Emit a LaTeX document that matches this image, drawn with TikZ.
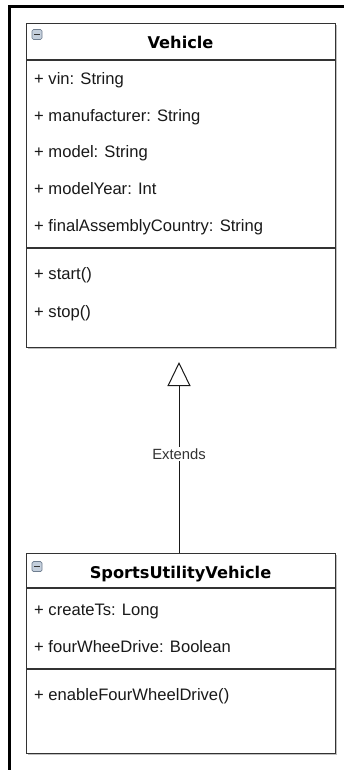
\documentclass[tikz,border=0pt]{standalone}
\usepackage{fontspec}
\setmainfont{Liberation Sans}
\newfontfamily\titlefont{DejaVu Sans}
\usetikzlibrary{arrows.meta}
\definecolor{boxline}{HTML}{333333}
\definecolor{iconfill}{HTML}{C4CFDC}
\definecolor{iconline}{HTML}{6F7E90}
\tikzset{
  classbox/.style={draw=boxline, line width=1.2pt, fill=white, anchor=north west,
    inner sep=0pt, minimum width=309pt},
  boxshadow/.style={fill=black!25, anchor=north west, inner sep=0pt, minimum width=309pt},
  divider/.style={draw=boxline, line width=1.2pt},
  member/.style={anchor=base west, inner sep=0pt, font=\fontsize{16.6}{19}\selectfont, text=black!90},
  classtitle/.style={anchor=base, inner sep=0pt, font=\titlefont\bfseries\fontsize{16.2}{19}\selectfont},
  collapse/.style={draw=iconline, fill=iconfill, rounded corners=1.5pt, line width=0.7pt},
  iconbar/.style={line width=1.6pt, draw=black!80},
  relabel/.style={fill=white, inner sep=1.5pt, font=\fontsize{14.8}{17}\selectfont, text=black!80},
  extends/.style={draw=black!90, line width=1pt,
    -{Triangle[open, length=24pt, width=23pt, line width=1pt]}},
  frame/.style={draw=black, line width=3pt, line join=miter}
}
\begin{document}
\begin{tikzpicture}[x=1pt, y=-1pt]
\useasboundingbox (0,0) rectangle (344,770);
\fill[white] (0,0) rectangle (344,770);

% outer frame (top and left edges)
\draw[frame] (9.5,770) -- (9.5,6.5) -- (344,6.5);

% ---- Vehicle ----
\node[boxshadow, minimum height=324pt] (vshadow) at (27.5,24.5) {};
\node[classbox, minimum height=324pt] (vehicle) at (26,23) {};
\draw[divider] (26,60) -- (335,60);
\draw[divider] (26,248) -- (335,248);
\draw[collapse] (32,29.5) rectangle (42,39.5);
\draw[iconbar] (34.3,34.5) -- (39.7,34.5);
\node[classtitle] (vtitle) at (180.5,49) {Vehicle};
\node[member] (vvin)   at (34,85)    {+ vin: String};
\node[member] (vman)   at (34,121.5) {+ manufacturer: String};
\node[member] (vmodel) at (34,158)   {+ model: String};
\node[member] (vyear)  at (34,194.5) {+ modelYear: Int};
\node[member] (vctry)  at (34,231)   {+ finalAssemblyCountry: String};
\node[member] (vstart) at (34,279)   {+ start()};
\node[member] (vstop)  at (34,317)   {+ stop()};

% ---- SportsUtilityVehicle ----
\node[boxshadow, minimum height=200pt] (sshadow) at (27.5,554.5) {};
\node[classbox, minimum height=200pt] (suv) at (26,553) {};
\draw[divider] (26,588) -- (335,588);
\draw[divider] (26,669) -- (335,669);
\draw[collapse] (32,561.5) rectangle (42,571.5);
\draw[iconbar] (34.3,566.5) -- (39.7,566.5);
\node[classtitle] (stitle) at (180.5,578) {SportsUtilityVehicle};
\node[member] (screate) at (34,615) {+ createTs: Long};
\node[member] (s4wd)    at (34,652) {+ fourWheeDrive: Boolean};
\node[member] (senable) at (34,700) {+ enableFourWheelDrive()};

% ---- generalisation ----
\coordinate (suvtop) at (179,553);
\coordinate (tip) at (179,362);
\draw[extends] (suvtop) -- (tip);
\node[relabel] (extlabel) at (179,454) {Extends};
\end{tikzpicture}
\end{document}
